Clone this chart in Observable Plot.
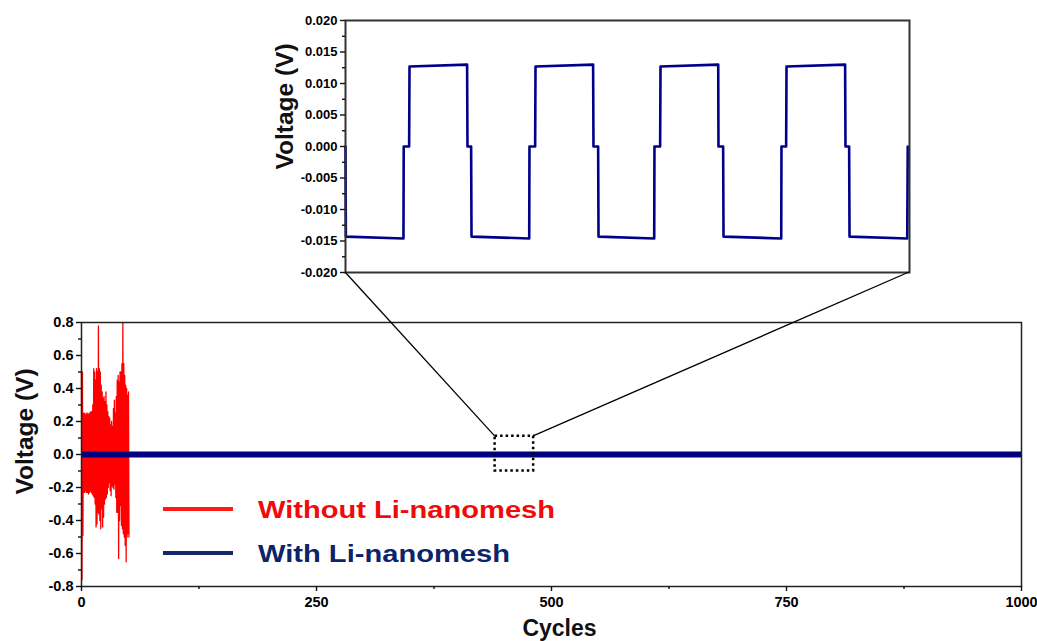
<!DOCTYPE html>
<html><head><meta charset="utf-8">
<script src="https://cdn.jsdelivr.net/npm/d3@7"></script>
<script src="https://cdn.jsdelivr.net/npm/@observablehq/plot@0.6"></script>
<style>
body{margin:0;background:#fff;}
#wrap{position:relative;width:1037px;height:641px;overflow:hidden;background:#fff;}
#wrap > svg{position:absolute;}
</style></head><body><div id="wrap"></div>
<script>
// ---- data ----
const mainYTicks = [-0.8, -0.6, -0.4, -0.2, 0, 0.2, 0.4, 0.6, 0.8];
const mainYMinor = [-0.7, -0.5, -0.3, -0.1, 0.1, 0.3, 0.5, 0.7];
const mainXTicks = [0, 250, 500, 750, 1000];
const mainXMinor = [125, 375, 625, 875];
const insetYTicks = [-0.020, -0.015, -0.010, -0.005, 0, 0.005, 0.010, 0.015, 0.020];
const insetYMinor = [-0.0175, -0.0125, -0.0075, -0.0025, 0.0025, 0.0075, 0.0125, 0.0175];
const mainXLabel = "Cycles";
const yLabel = "Voltage (V)";
const seriesNames = ["Without Li-nanomesh", "With Li-nanomesh"];
const seriesColors = ["#ff0000", "#000080"];
const legendSwatch = ["#ff1a1a", "#14286b"];
const legendText = ["#f00a0a", "#0c2468"];

// Without Li-nanomesh: upper / lower swing per cycle (first ~50 cycles)
const redCycles = [0,1,2,3,4,5,6,7,8,9,10,11,12,13,14,15,16,17,18,19,20,21,22,23,24,25,26,27,28,29,30,31,32,33,34,35,36,37,38,39,40,41,42,43,44,45,46,47,48,49,50];
const redUpper = [0.50,0.50,0.25,0.25,0.24,0.25,0.25,0.24,0.25,0.25,0.26,0.26,0.30,0.52,0.50,0.45,0.52,0.50,0.78,0.52,0.50,0.42,0.38,0.34,0.35,0.32,0.38,0.30,0.26,0.23,0.22,0.18,0.20,0.17,0.28,0.33,0.25,0.35,0.45,0.48,0.44,0.50,0.50,0.55,0.80,0.55,0.48,0.42,0.40,0.36,0.38];
const redLower = [-0.76,-0.49,-0.23,-0.23,-0.22,-0.23,-0.23,-0.24,-0.23,-0.22,-0.23,-0.24,-0.25,-0.26,-0.30,-0.44,-0.42,-0.35,-0.36,-0.40,-0.45,-0.33,-0.44,-0.38,-0.30,-0.27,-0.26,-0.24,-0.20,-0.17,-0.22,-0.25,-0.19,-0.20,-0.21,-0.18,-0.26,-0.35,-0.35,-0.63,-0.40,-0.31,-0.43,-0.45,-0.48,-0.50,-0.55,-0.65,-0.50,-0.48,-0.50];

// With Li-nanomesh (main view, flat around 0 V)
const blueCycles = [0, 1000];
const blueVoltage = [0, 0];

// zoom window
const zoomBoxCycles = [440, 481];
const zoomBoxVoltage = [-0.10, 0.11];

// inset: square-wave polarization (time in cycles)
const insetTime = [0, 0.003, 0.46, 0.462, 0.505, 0.508, 0.965, 0.968, 0.997, 1.0, 1.458, 1.46, 1.505, 1.508, 1.965, 1.968, 2.005, 2.008, 2.45, 2.452, 2.497, 2.5, 2.958, 2.96, 2.997, 3.0, 3.458, 3.46, 3.497, 3.5, 3.965, 3.968, 3.997, 4.0, 4.458, 4.462];
const insetVoltage = [0, -0.0143, -0.0146, 0, 0, 0.0127, 0.0130, 0, 0, -0.0143, -0.0146, 0, 0, 0.0127, 0.0130, 0, 0, -0.0143, -0.0146, 0, 0, 0.0127, 0.0130, 0, 0, -0.0143, -0.0146, 0, 0, 0.0127, 0.0130, 0, 0, -0.0143, -0.0146, 0];
const insetTimeDomain = [0, 4.476];

// ---- build tables ----
const redSeries = [];
redCycles.forEach((c, i) => {
  redSeries.push({cycle: c, v: redUpper[i]});
  redSeries.push({cycle: c + 0.5, v: redLower[i]});
});
const blueSeries = blueCycles.map((c, i) => ({cycle: c, v: blueVoltage[i]}));
const zoomBox = [{x1: zoomBoxCycles[0], x2: zoomBoxCycles[1], y1: zoomBoxVoltage[0], y2: zoomBoxVoltage[1]}];
const insetData = insetTime.map((t, i) => ({t, v: insetVoltage[i]}));

const fmt = n => d => (d < 0 ? "-" : "") + Math.abs(d).toFixed(n);
const sans = "'Liberation Sans', Arial, Helvetica, sans-serif";
const axText = {fontWeight: "bold", fill: "#000", stroke: "#111"};

const W = 1037, H = 641;
const main = Plot.plot({
  width: W, height: H,
  marginLeft: 81, marginRight: 16, marginTop: 322, marginBottom: 55,
  style: {fontFamily: sans, fontWeight: "bold", fontSize: "14.5px", color: "#111", background: "white"},
  x: {domain: [0, 1000], axis: null},
  y: {domain: [-0.8, 0.8], axis: null},
  marks: [
    Plot.line(redSeries, {x: "cycle", y: "v", stroke: seriesColors[0], strokeWidth: 1.3}),
    Plot.line(blueSeries, {x: "cycle", y: "v", stroke: seriesColors[1], strokeWidth: 6, strokeLinecap: "butt"}),
    Plot.rect(zoomBox, {x1: "x1", x2: "x2", y1: "y1", y2: "y2", fill: "none", stroke: "#000", strokeWidth: 2.5, strokeDasharray: "2.5,3"}),
    Plot.frame({stroke: "#222", strokeWidth: 1.5}),
    Plot.axisY(mainYTicks, {tickSize: 5, tickPadding: 3, tickFormat: fmt(1), label: null, fontSize: 14.5, fontWeight: "bold", strokeWidth: 1.4, textStroke: "none"}),
    Plot.axisY(mainYMinor, {tickSize: 3, tickFormat: () => "", label: null, strokeWidth: 1.4}),
    Plot.axisX(mainXTicks, {tickSize: 5, tickPadding: 5, tickFormat: d => String(d), label: null, fontSize: 14.5, fontWeight: "bold", strokeWidth: 1.4}),
    Plot.axisX(mainXMinor, {tickSize: 3, tickFormat: () => "", label: null, strokeWidth: 1.4}),
    Plot.text([yLabel], {text: d => d, frameAnchor: "left", textAnchor: "middle", rotate: -90, dx: -56, dy: -23, fontSize: 24.5, fontWeight: "bold", fill: "#111"}),
    Plot.text([mainXLabel], {text: d => d, frameAnchor: "bottom", textAnchor: "middle", lineAnchor: "middle", dx: 8, dy: 42, fontSize: 23, fontWeight: "bold", fill: "#111"})
  ]
});

const insetLeft = 250, insetTop = 0;
const inset = Plot.plot({
  width: 680, height: 290,
  marginLeft: 95, marginRight: 21, marginTop: 20, marginBottom: 18,
  style: {fontFamily: sans, fontWeight: "bold", fontSize: "13px", color: "#111", background: "transparent"},
  x: {domain: insetTimeDomain, axis: null},
  y: {domain: [-0.02, 0.02], axis: null},
  marks: [
    Plot.line(insetData, {x: "t", y: "v", stroke: "#00008b", strokeWidth: 2.6}),
    Plot.frame({stroke: "#333", strokeWidth: 2}),
    Plot.axisY(insetYTicks, {tickSize: 5, tickPadding: 3, tickFormat: fmt(3), label: null, fontSize: 13, fontWeight: "bold", strokeWidth: 1.4}),
    Plot.axisY(insetYMinor, {tickSize: 3, tickFormat: () => "", label: null, strokeWidth: 1.4}),
    Plot.text([yLabel], {text: d => d, frameAnchor: "left", textAnchor: "middle", rotate: -90, dx: -60, dy: -40, fontSize: 24.5, fontWeight: "bold", fill: "#111"})
  ]
});

const wrap = document.getElementById("wrap");
main.style.left = "0px"; main.style.top = "0px";
inset.style.left = insetLeft + "px"; inset.style.top = insetTop + "px";
inset.style.background = "transparent";
wrap.appendChild(main);
wrap.appendChild(inset);

// make tick labels solid black bold
for (const svg of [main, inset]) {
  svg.querySelectorAll('g[aria-label$="tick label"] text').forEach(t => {
    t.setAttribute("fill", "#000");
    t.setAttribute("font-weight", "bold");
  });
}

// ---- overlay: connector lines + legend ----
const mx = main.scale("x"), my = main.scale("y");
const ix = inset.scale("x"), iy = inset.scale("y");
const ov = d3.create("svg").attr("width", W).attr("height", H)
  .style("left", "0px").style("top", "0px").style("pointer-events", "none");
const links = [
  [insetLeft + ix.apply(insetTimeDomain[0]), insetTop + iy.apply(-0.02), mx.apply(zoomBoxCycles[0]), my.apply(zoomBoxVoltage[1])],
  [insetLeft + ix.apply(insetTimeDomain[1]), insetTop + iy.apply(-0.02), mx.apply(zoomBoxCycles[1]), my.apply(zoomBoxVoltage[1])]
];
ov.selectAll("line.link").data(links).join("line")
  .attr("x1", d => d[0]).attr("y1", d => d[1]).attr("x2", d => d[2]).attr("y2", d => d[3])
  .attr("stroke", "#000").attr("stroke-width", 1.3);

const lg = ov.append("g").attr("font-family", sans).attr("font-weight", "bold");
const legendRowY = [509, 553];
const legendWidths = [297, 252];
seriesNames.forEach((name, i) => {
  lg.append("line").attr("x1", 163).attr("x2", 233).attr("y1", legendRowY[i]).attr("y2", legendRowY[i])
    .attr("stroke", legendSwatch[i]).attr("stroke-width", 4);
  lg.append("text").attr("x", 258).attr("y", legendRowY[i] + 8.5)
    .attr("font-size", 23.5).attr("fill", legendText[i])
    .attr("textLength", legendWidths[i]).attr("lengthAdjust", "spacingAndGlyphs")
    .text(name);
});
wrap.appendChild(ov.node());
</script></body></html>
